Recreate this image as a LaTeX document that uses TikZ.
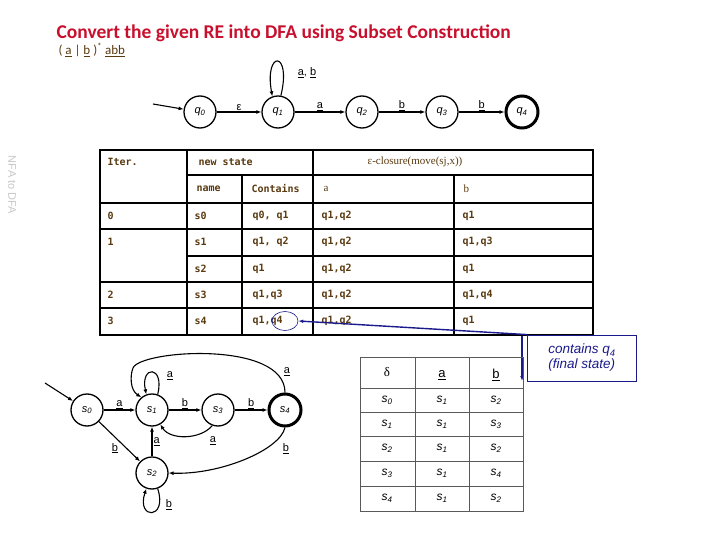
\documentclass[tikz,border=0pt]{standalone}
\usepackage{fontspec}
\setmainfont{Liberation Sans}
\newfontfamily\titlef{Carlito}
\newfontfamily\tabf{DejaVu Sans Mono}
\newfontfamily\serf{Liberation Serif}
\usetikzlibrary{arrows.meta,shapes.geometric}
\definecolor{titler}{HTML}{C8102E}
\definecolor{brn}{HTML}{5A3A10}
\definecolor{navy}{HTML}{1A1A8C}
\begin{document}
\begin{tikzpicture}[x=1pt,y=-1pt,
  st/.style={circle,draw,line width=1.3pt,minimum size=32pt,inner sep=0pt,font=\itshape\fontsize{11}{11}\selectfont},
  fin/.style={st,line width=3pt},
  ed/.style={line width=1.1pt,-{Latex[length=5pt,width=4pt]}},
  lb/.style={font=\fontsize{11}{11}\selectfont,inner sep=1pt},
  tt/.style={font=\tabf\bfseries\fontsize{10}{10}\selectfont,text=brn,anchor=west},
  dt/.style={font=\itshape\fontsize{12}{12}\selectfont}]
\useasboundingbox (0,0) rectangle (720,540);
\node[anchor=west,text=titler,font=\titlef\bfseries\fontsize{19.5}{19.5}\selectfont] (title) at (53,33) {Convert the given RE into DFA using Subset Construction};
\node[anchor=west,text=brn,font=\titlef\fontsize{13}{13}\selectfont] (re) at (55,50) {( \underline{a} | \underline{b} )\textsuperscript{*} \underline{abb}};
\node[rotate=-90,text=gray!45,font=\fontsize{11}{11}\selectfont] (side) at (12,185) {NFA to DFA};
% NFA
\node[st] (q0) at (200,112) {q\textsubscript{0}};
\node[st] (q1) at (278,112) {q\textsubscript{1}};
\node[st] (q2) at (362,112) {q\textsubscript{2}};
\node[st] (q3) at (442,112) {q\textsubscript{3}};
\node[fin] (q4) at (522,112) {q\textsubscript{4}};
\coordinate (qs) at (153,104);
\draw[ed] (qs) -- (q0);
\draw[ed] (q0) -- node[lb,above]{ε} (q1);
\draw[ed] (q1) -- node[lb,above]{\underline{a}} (q2);
\draw[ed] (q2) -- node[lb,above]{\underline{b}} (q3);
\draw[ed] (q3) -- node[lb,above]{\underline{b}} (q4);
\draw[ed] (q1.80) .. controls (292,50) and (264,50) .. (q1.110);
\node[lb] (qab) at (307,73) {\underline{a}, \underline{b}};
% table
\begin{scope}[line width=1.6pt]
\draw (100,150) rectangle (593,335);
\draw (187,175) -- (313,175);
\draw (313,175) -- (593,175);
\foreach \y in {203,229,282,308} \draw (100,\y) -- (593,\y);
\draw (187,256) -- (593,256);
\draw (187,150) -- (187,335); \draw (313,150) -- (313,335);
\draw (242,175) -- (242,335); \draw (454,175) -- (454,335);
\end{scope}
\node[tt] (h1) at (104,162) {Iter.};
\node[tt] (h2) at (195,162) {new state};
\node[font=\serf\fontsize{11}{11}\selectfont,text=brn] (h3) at (415,162) {ε-closure(move(sj,x))};
\node[tt] (h4) at (193,189) {name};
\node[tt] (h5) at (248,189) {Contains};
\node[tt,font=\serf\fontsize{11}{11}\selectfont] (h6) at (320,189) {a};
\node[tt,font=\serf\fontsize{11}{11}\selectfont] (h7) at (460,189) {b};
\foreach \y/\i/\n/\c/\a/\b [count=\k] in {216/0/s0/{q0, q1}/{q1,q2}/q1, 242/1/s1/{q1, q2}/{q1,q2}/{q1,q3}, 269/{}/s2/q1/{q1,q2}/q1, 295/2/s3/{q1,q3}/{q1,q2}/{q1,q4}, 321/3/s4/{q1,q4}/{q1,q2}/q1}{
  \node[tt] (ti\k) at (104,\y) {\i};
  \node[tt] (tn\k) at (191,\y) {\n};
  \node[tt] (tc\k) at (249,\y) {\c};
  \node[tt] (ta\k) at (318,\y) {\a};
  \node[tt] (tb\k) at (459,\y) {\b};
}
\node[ellipse,draw=navy,line width=0.6pt,minimum width=26pt,minimum height=19pt] (ell) at (285,321) {};
% callout
\node[draw=navy,line width=0.8pt,minimum width=109pt,minimum height=46pt,align=left,text=navy,font=\itshape\fontsize{13.5}{15}\selectfont] (call) at (582,358) {contains q\textsubscript{4}\\(final state)};
\draw[navy,line width=1.4pt,-{Latex[length=5pt]}] (call.north west) -- (ell.east);
\coordinate (cs) at (522,336);
\coordinate (ce) at (522,381);
\draw[navy,line width=1.4pt,-{Latex[length=5pt]}] (cs) -- (ce);
% DFA
\node[st] (s0) at (87,410) {s\textsubscript{0}};
\node[st] (s1) at (152,410) {s\textsubscript{1}};
\node[st] (s3) at (218,410) {s\textsubscript{3}};
\node[fin] (s4) at (285,410) {s\textsubscript{4}};
\node[st] (s2) at (152,473) {s\textsubscript{2}};
\coordinate (ss) at (45,383);
\draw[ed] (ss) -- (s0);
\draw[ed] (s0) -- node[lb,above]{\underline{a}} (s1);
\draw[ed] (s1) -- node[lb,above]{\underline{b}} (s3);
\draw[ed] (s3) -- node[lb,above]{\underline{b}} (s4);
\draw[ed] (s0) -- node[lb,below left]{\underline{b}} (s2);
\draw[ed] (s2) -- node[lb,right]{\underline{a}} (s1);
\draw[ed] (s1.70) .. controls (165,365) and (140,365) .. (s1.110);
\node[lb] (l1) at (170,376) {\underline{a}};
\draw[ed] (s2.290) .. controls (168,520) and (136,520) .. (s2.250);
\node[lb] (l2) at (169,505) {\underline{b}};
\draw[ed] (s3.250) .. controls (200,440) and (170,440) .. (s1.300);
\node[lb] (l3) at (213,441) {\underline{a}};
\draw[ed] (s4.north) .. controls (285,340) and (140,350) .. (133,368) .. controls (130,375) and (130,390) .. (s1.130);
\node[lb] (l4) at (287,372) {\underline{a}};
\draw[ed] (s4.south) .. controls (280,450) and (220,475) .. (s2.east);
\node[lb] (l5) at (286,449) {\underline{b}};
% delta table
\begin{scope}[gray!70!black,line width=0.6pt]
\draw (360,357) rectangle (523,511);
\foreach \y in {388,412,436,461,486} \draw (360,\y) -- (523,\y);
\draw (415,357) -- (415,511); \draw (469,357) -- (469,511);
\end{scope}
\node[font=\serf\fontsize{13}{13}\selectfont] (dh) at (387,372) {δ};
\node[font=\fontsize{13}{13}\selectfont] (da) at (442,375) {\underline{a}};
\node[font=\fontsize{13}{13}\selectfont] (db) at (496,375) {\underline{b}};
\foreach \y/\p/\q/\r [count=\k] in {400/0/1/2, 424/1/1/3, 448/2/1/2, 473/3/1/4, 498/4/1/2}{
  \node[dt] (dp\k) at (387,\y) {s\textsubscript{\p}};
  \node[dt] (dq\k) at (442,\y) {s\textsubscript{\q}};
  \node[dt] (dr\k) at (496,\y) {s\textsubscript{\r}};
}
\end{tikzpicture}
\end{document}
